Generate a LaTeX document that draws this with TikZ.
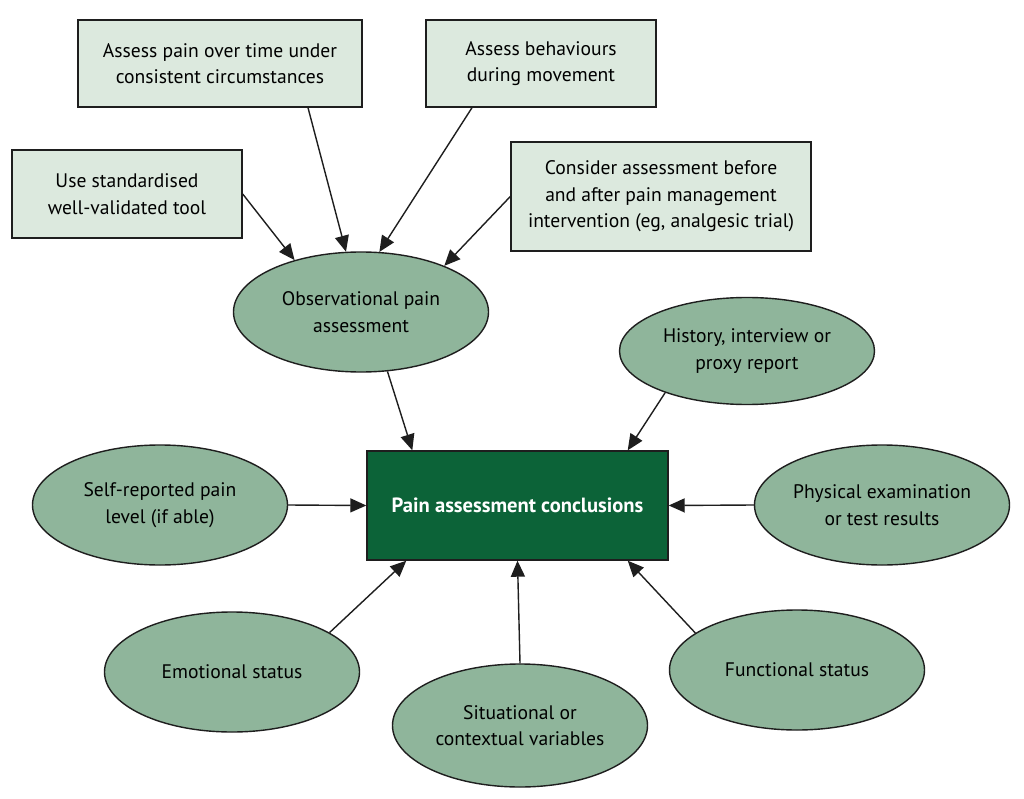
\documentclass[tikz,border=0pt]{standalone}
\usepackage{fontspec}
\setmainfont{PT Sans}
\usetikzlibrary{arrows.meta,shapes.geometric,calc}
\definecolor{lightbox}{RGB}{220,233,222}
\definecolor{ellfill}{RGB}{143,181,155}
\definecolor{darkgreen}{RGB}{12,99,56}
\definecolor{linec}{RGB}{30,30,30}
\begin{document}
\begin{tikzpicture}[x=1pt,y=-1pt,
  tipbox/.style={draw=linec,line width=1.4pt,fill=lightbox,align=center,inner sep=0pt,font=\fontsize{19.6}{26.5}\selectfont},
  oval/.style={ellipse,draw=linec,line width=1.4pt,fill=ellfill,align=center,inner sep=0pt,minimum width=255pt,minimum height=120pt,font=\fontsize{19.6}{26.5}\selectfont},
  conn/.style={draw=linec,line width=1.4pt,-{Triangle[length=16pt,width=14pt]}}]
\useasboundingbox (0,0) rectangle (1024,799);
\fill[white] (0,0) rectangle (1024,799);
% boxes
\node[tipbox,minimum width=284pt,minimum height=87pt] (b1) at (220,63.5) {Assess pain over time under\\consistent circumstances};
\node[tipbox,minimum width=230pt,minimum height=87pt] (b2) at (541,63.5) {Assess behaviours\\during movement};
\node[tipbox,minimum width=230pt,minimum height=88pt] (b3) at (127,194) {Use standardised\\well-validated tool};
\node[tipbox,minimum width=300pt,minimum height=109pt] (b4) at (661,196.5) {Consider assessment before\\and after pain management\\intervention (eg, analgesic trial)};
% ellipses
\node[oval] (obs) at (361,312) {Observational pain\\assessment};
\node[oval,minimum height=107pt] (hist) at (747,351) {History, interview or\\proxy report};
\node[oval] (self) at (160,505) {Self-reported pain\\level (if able)};
\node[oval] (phys) at (882,505) {Physical examination\\or test results};
\node[oval] (emo) at (232,672) {Emotional status};
\node[oval,minimum height=123pt] (sit) at (520,725.5) {Situational or\\contextual variables};
\node[oval] (func) at (797,670) {Functional status};
% centre
\node[draw=linec,line width=1.4pt,fill=darkgreen,minimum width=301pt,minimum height=109pt,text=white,font=\fontsize{20.6}{24}\selectfont\bfseries] (c) at (517.5,505.5) {Pain assessment conclusions};
% connectors
\draw[conn] (b3.east) -- (obs.142.7);
\draw[conn] ($(b1.south)+(88,0)$) -- (obs.104.5);
\draw[conn] ($(b2.south)+(-69,0)$) -- (obs.73);
\draw[conn] (b4.west) -- (obs.29.3);
\draw[conn] (obs.-66.6) -- ($(c.north west)+(46,0)$);
\draw[conn] (hist.207.4) -- ($(c.north east)+(-41,0)$);
\draw[conn] (self.east) -- (c.west);
\draw[conn] (phys.west) -- (c.east);
\draw[conn] (emo.22.6) -- ($(c.south west)+(40,0)$);
\draw[conn] (sit.north) -- (c.south);
\draw[conn] (func.160) -- ($(c.south east)+(-41,0)$);
\end{tikzpicture}
\end{document}
